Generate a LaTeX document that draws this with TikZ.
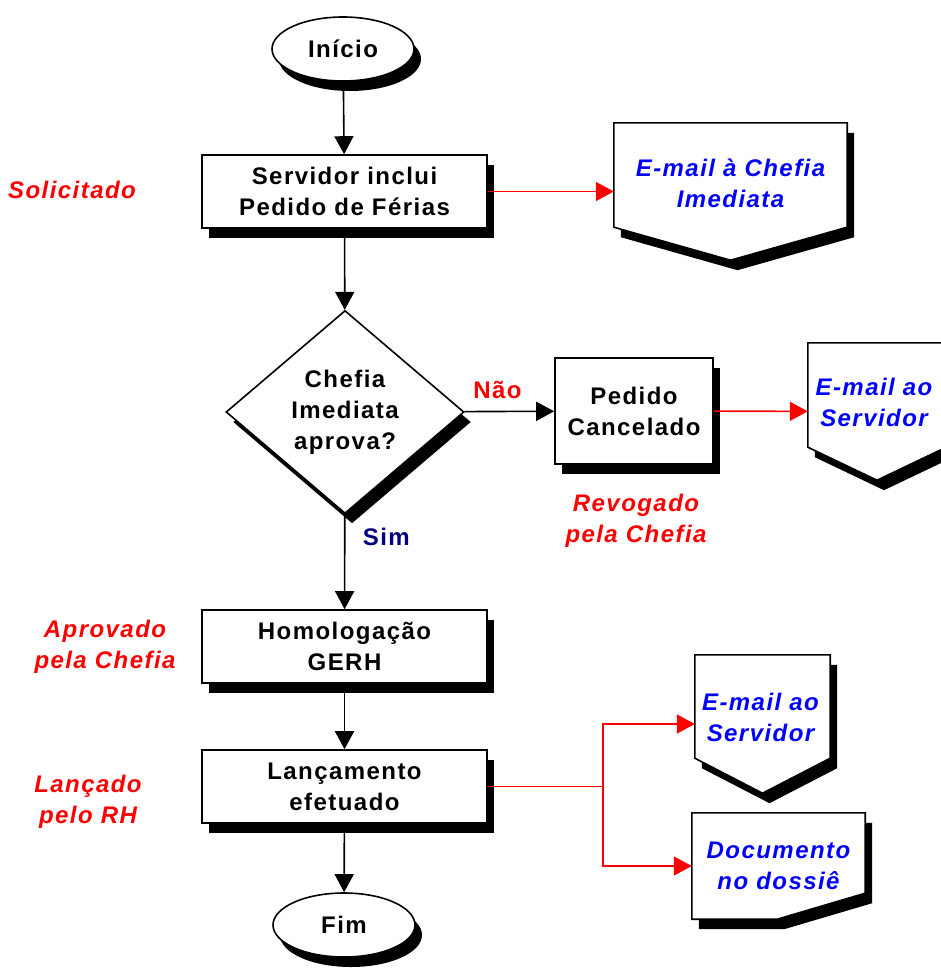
\documentclass[tikz,border=0pt]{standalone}
\usepackage{fontspec}
\setmainfont{Liberation Sans}[LetterSpace=6]
\usepackage{tikz}
\usetikzlibrary{shapes.geometric,shadows,arrows.meta,backgrounds}
\definecolor{marinho}{RGB}{0,0,128}
\newcommand\fonte{\fontsize{24}{31}\selectfont\bfseries}

\begin{document}
\begin{tikzpicture}[x=1pt,y=-1pt,>={Triangle[length=18pt,width=19pt]},font=\fonte,
	sombra/.style={drop shadow={shadow xshift=7pt,shadow yshift=-10pt,opacity=1,fill=black}},
	contorno/.style={draw,line width=1.6pt,fill=white,sombra},
	caixa/.style={rectangle,contorno,minimum width=285pt,minimum height=73pt,align=center},
	termino/.style={ellipse,contorno,minimum width=142pt,minimum height=64pt},
	decisao/.style={diamond,contorno,minimum width=238pt,minimum height=203pt,align=center,inner sep=0pt},
	aviso/.style={rectangle,inner sep=0pt,align=center,text=blue,font=\fonte\itshape},
	status/.style={text=red,font=\fonte\itshape,align=center},
	fluxo/.style={->,line width=1.6pt},
	alerta/.style={->,red,line width=1.6pt}]
	\useasboundingbox (0,0) rectangle (940,972);

	% fluxo principal
	\node[termino] (inicio) at (343,49) {Início};
	\node[caixa] (servidor) at (344.5,191.5) {Servidor inclui\\Pedido de Férias};
	\node[decisao] (chefia) at (345,412) {Chefia\\Imediata\\aprova?};
	\node[caixa,minimum width=158pt,minimum height=106pt] (cancelado) at (634,411) {Pedido\\Cancelado};
	\node[caixa] (homolog) at (344.5,646.5) {Homologação\\GERH};
	\node[caixa] (lancamento) at (344.5,786.5) {Lançamento\\efetuado};
	\node[termino] (fim) at (344,925) {Fim};

	% avisos (o contorno vai no fundo)
	\node[aviso,minimum width=233pt,minimum height=137pt,
		label={[aviso,yshift=8pt]center:E-mail à Chefia\\Imediata}] (mailchefia) at (730.5,191.5) {};
	\node[aviso,minimum width=138pt,minimum height=137pt,
		label={[aviso,yshift=9pt,xshift=-3pt]center:E-mail ao\\Servidor}] (mailserv) at (877,411.5) {};
	\node[aviso,minimum width=135pt,minimum height=138pt,
		label={[aviso,yshift=7pt,xshift=-2pt]center:E-mail ao\\Servidor}] (mailserv2) at (762.5,724) {};
	\node[aviso,minimum width=173pt,minimum height=106pt] (dossie) at (778.5,866) {Documento\\no dossiê};
	\coordinate (ramo) at (603,786.5);

	\begin{scope}[on background layer]
		\path[contorno] (mailchefia.north west) -- (mailchefia.north east) -- ([yshift=33pt]mailchefia.south east)
			-- (mailchefia.south) -- ([yshift=33pt]mailchefia.south west) -- cycle;
		\path[contorno] (mailserv.north west) -- (mailserv.north east) -- ([yshift=33pt]mailserv.south east)
			-- (mailserv.south) -- ([yshift=33pt]mailserv.south west) -- cycle;
		\path[contorno] (mailserv2.north west) -- (mailserv2.north east) -- ([yshift=35pt]mailserv2.south east)
			-- (mailserv2.south) -- ([yshift=35pt]mailserv2.south west) -- cycle;
		\path[contorno] (dossie.north west) -- (dossie.north east) -- ([yshift=26pt]dossie.south east)
			-- ([xshift=-88pt]dossie.south east) -- (dossie.south west) -- cycle;
	\end{scope}

	% situacoes
	\node[status] (solicitado) at (72,190) {Solicitado};
	\node[status] (revogado) at (636,521) {Revogado\\pela Chefia};
	\node[status] (aprovado) at (105,647) {Aprovado\\pela Chefia};
	\node[status] (lancado) at (88,802) {Lançado\\pelo RH};

	\draw[fluxo] (inicio) -- (servidor);
	\draw[fluxo] (servidor) -- (chefia);
	\draw[fluxo] (chefia) -- node[pos=0.37,above=9pt,text=red]{Não} (cancelado);
	\draw[fluxo] (chefia) -- node[pos=0.24,right=14pt,text=marinho]{Sim} (homolog);
	\draw[fluxo] (homolog) -- (lancamento);
	\draw[fluxo] (lancamento) -- (fim);
	\draw[alerta] (servidor) -- (mailchefia);
	\draw[alerta] (cancelado) -- (mailserv);
	\draw[red,line width=1.6pt] (lancamento.east) -- (ramo);
	\draw[alerta] (ramo) |- (mailserv2);
	\draw[alerta] (ramo) |- (dossie);
\end{tikzpicture}
\end{document}
